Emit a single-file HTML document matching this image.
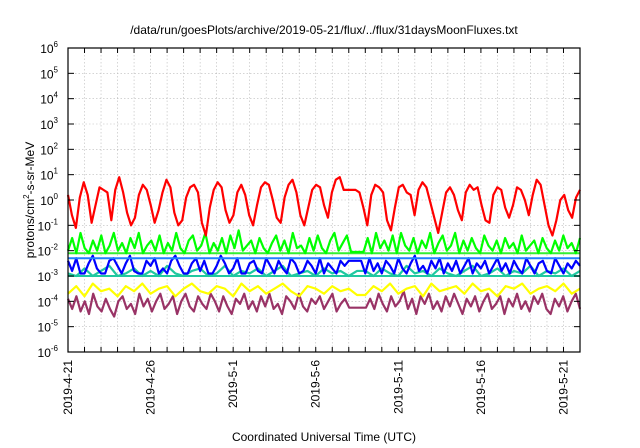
<!DOCTYPE html>
<html><head><meta charset="utf-8"><style>
body{margin:0;background:#fff}
svg{display:block;font-family:"Liberation Sans",sans-serif}
</style></head><body>
<svg id="chart" width="640" height="448" viewBox="0 0 640 448" xmlns="http://www.w3.org/2000/svg">
<text x="324" y="34" font-size="12" text-anchor="middle">/data/run/goesPlots/archive/2019-05-21/flux/../flux/31daysMoonFluxes.txt</text>
<text x="324" y="441" font-size="12" text-anchor="middle">Coordinated Universal Time (UTC)</text>
<text transform="translate(34,200) rotate(-90)" font-size="12" text-anchor="middle">protons/cm<tspan dy="-5" font-size="8">2</tspan><tspan dy="5">-s-sr-MeV</tspan></text>
<g id="grid"></g><g id="series"></g><g id="axes"></g>
</svg>
<script>
// log10 flux values, evenly spaced over the 31-day window starting 2019-4-21
const xTickLabels=["2019-4-21","2019-4-26","2019-5-1","2019-5-6","2019-5-11","2019-5-16","2019-5-21"];
const xTickDays=[0,5,10,15,20,25,30];
const yTickExps=[-6,-5,-4,-3,-2,-1,0,1,2,3,4,5,6];
const red=[0.2,-0.6,-1.1,0.1,0.7,0.2,-0.9,-0.2,0.5,0.4,0.3,-0.8,0.4,0.9,0.3,-0.5,-1.0,-0.7,0.2,0.6,0.4,-0.2,-0.9,-0.4,0.3,0.8,0.5,-0.5,-1.0,-0.8,0.1,0.5,0.6,0.3,-0.9,-1.4,-0.3,0.4,0.7,0.5,-0.4,-0.9,-0.6,0.3,0.6,0.2,-0.6,-1.0,-0.2,0.5,0.7,0.6,0.0,-0.7,-0.9,0.1,0.6,0.8,0.3,-0.6,-1.0,-0.3,0.4,0.6,0.5,-0.2,-0.7,0.3,0.8,0.9,0.4,0.4,0.4,0.4,0.3,-0.3,-1.0,0.2,0.6,0.5,0.3,-0.8,-1.2,-0.3,0.5,0.6,0.3,0.2,-0.6,0.4,0.7,0.5,-0.1,-0.7,-1.3,-0.5,0.3,0.5,0.2,-0.4,-0.8,0.3,0.6,0.4,0.5,-0.2,-0.8,-0.9,0.2,0.5,0.4,-0.3,-0.7,-0.2,0.5,0.4,0.0,-0.6,0.2,0.8,0.6,-0.2,-1.0,-1.4,-0.8,0.0,0.2,-0.4,-0.7,0.1,0.4];
const green=[-2.0,-1.5,-2.1,-1.3,-1.9,-2.1,-1.6,-2.0,-1.4,-2.1,-1.8,-1.3,-2.0,-1.7,-2.1,-1.5,-1.9,-1.3,-2.1,-1.8,-1.6,-2.0,-1.4,-2.1,-1.7,-2.0,-1.3,-1.9,-2.1,-1.6,-1.4,-2.0,-1.8,-1.3,-2.1,-1.7,-2.0,-1.5,-2.1,-1.4,-1.9,-1.2,-2.0,-1.8,-1.6,-2.1,-1.5,-1.9,-2.1,-1.7,-1.4,-2.0,-1.6,-2.1,-1.3,-1.9,-1.8,-2.1,-1.5,-2.0,-1.4,-1.9,-2.1,-1.6,-1.3,-2.0,-1.7,-1.4,-2.05,-2.05,-2.05,-2.05,-1.5,-2.1,-1.3,-1.9,-1.6,-2.0,-1.4,-2.1,-1.3,-1.8,-2.0,-1.5,-2.1,-1.6,-1.9,-1.3,-2.1,-1.7,-1.4,-2.0,-1.8,-1.3,-2.1,-1.6,-2.0,-1.5,-1.9,-2.1,-1.4,-1.8,-2.0,-1.6,-2.1,-1.5,-1.9,-1.7,-2.1,-1.4,-2.0,-1.8,-1.6,-2.1,-1.5,-1.9,-2.1,-1.6,-2.0,-1.4,-1.9,-1.7,-2.1,-1.5];
const blue=[-2.4,-2.8,-2.3,-2.9,-2.9,-2.5,-2.2,-2.7,-2.9,-2.9,-2.4,-2.3,-2.6,-2.9,-2.5,-2.2,-2.8,-2.9,-2.9,-2.4,-2.6,-2.3,-2.9,-2.7,-2.9,-2.4,-2.2,-2.6,-2.9,-2.9,-2.5,-2.3,-2.8,-2.4,-2.9,-2.9,-2.6,-2.2,-2.5,-2.9,-2.7,-2.3,-2.9,-2.9,-2.5,-2.4,-2.8,-2.9,-2.3,-2.6,-2.9,-2.4,-2.7,-2.9,-2.3,-2.5,-2.9,-2.8,-2.4,-2.6,-2.9,-2.3,-2.9,-2.5,-2.7,-2.9,-2.4,-2.6,-2.4,-2.4,-2.4,-2.4,-2.9,-2.3,-2.8,-2.5,-2.9,-2.4,-2.6,-2.9,-2.3,-2.7,-2.9,-2.5,-2.2,-2.8,-2.6,-2.9,-2.4,-2.7,-2.3,-2.9,-2.5,-2.8,-2.4,-2.9,-2.6,-2.3,-2.9,-2.5,-2.7,-2.4,-2.9,-2.6,-2.3,-2.8,-2.5,-2.9,-2.4,-2.7,-2.9,-2.3,-2.6,-2.9,-2.5,-2.4,-2.8,-2.9,-2.3,-2.6,-2.9,-2.5,-2.7,-2.4,-2.6];
const cyan=[-2.9,-3.0,-2.7,-3.0,-2.8,-2.6,-3.0,-2.9,-2.7,-3.0,-2.8,-3.0,-2.6,-2.9,-3.0,-2.8,-2.7,-3.0,-2.9,-2.6,-3.0,-2.8,-2.9,-2.7,-3.0,-2.8,-2.6,-3.0,-2.9,-2.8,-3.0,-2.7,-2.9,-2.8,-3.0,-2.8,-2.8,-3.0,-2.7,-2.9,-3.0,-2.6,-2.9,-2.8,-3.0,-2.7,-2.9,-3.0,-2.8,-2.6,-3.0,-2.9,-2.7,-3.0,-2.8,-2.9,-2.6,-3.0,-2.8,-2.9,-2.7,-3.0,-2.8];
const yellow=[-3.7,-3.4,-3.8,-3.3,-3.6,-3.5,-3.8,-3.4,-3.6,-3.3,-3.7,-3.5,-3.4,-3.8,-3.5,-3.3,-3.6,-3.7,-3.4,-3.5,-3.8,-3.3,-3.6,-3.4,-3.7,-3.5,-3.3,-3.6,-3.8,-3.4,-3.5,-3.7,-3.4,-3.6,-3.5,-3.75,-3.75,-3.4,-3.6,-3.3,-3.7,-3.5,-3.4,-3.8,-3.3,-3.6,-3.5,-3.4,-3.7,-3.3,-3.6,-3.5,-3.8,-3.4,-3.5,-3.3,-3.7,-3.5,-3.4,-3.6,-3.3,-3.7,-3.5];
const purple=[-3.9,-4.3,-3.8,-4.4,-4.0,-4.5,-3.7,-4.2,-4.4,-3.9,-4.3,-4.6,-4.0,-3.8,-4.3,-4.1,-4.5,-3.7,-4.2,-3.9,-4.4,-4.0,-3.7,-4.3,-4.1,-3.8,-4.5,-4.0,-3.7,-4.2,-4.4,-3.8,-4.1,-4.3,-3.7,-4.0,-4.4,-3.8,-4.2,-4.5,-3.9,-4.1,-3.7,-4.3,-4.0,-4.4,-3.8,-4.2,-3.7,-4.3,-4.1,-4.5,-3.8,-4.0,-4.3,-3.7,-4.2,-4.4,-3.9,-4.1,-3.8,-4.3,-4.0,-3.7,-4.4,-4.1,-3.9,-4.25,-4.25,-4.25,-4.25,-4.25,-3.9,-4.3,-3.7,-4.1,-4.4,-3.8,-4.2,-4.0,-3.6,-4.3,-3.9,-4.5,-3.8,-4.1,-3.7,-4.3,-4.0,-4.4,-3.8,-4.2,-3.7,-4.1,-4.5,-3.9,-4.2,-3.8,-4.4,-4.0,-3.7,-4.3,-4.1,-3.8,-4.5,-3.9,-4.2,-3.7,-4.3,-4.0,-4.4,-3.8,-4.1,-3.7,-4.3,-4.5,-3.9,-4.2,-3.8,-4.4,-4.0,-3.7,-4.3];
const floorGreen=-2.1, floorBlue=-2.3, floorCyan=-3.0;

const L=68,R=580,T=48,B=352,D0=0,D1=31;
const xs=d=>L+(d-D0)/(D1-D0)*(R-L);
const ys=e=>B-(e+6)/12*(B-T);
const NS="http://www.w3.org/2000/svg";
function mk(tag,attrs,parent){const el=document.createElementNS(NS,tag);for(const k in attrs)el.setAttribute(k,attrs[k]);parent.appendChild(el);return el;}
const grid=document.getElementById('grid'),axes=document.getElementById('axes'),ser=document.getElementById('series');
for(let d=1;d<31;d++){const g=mk('line',{x1:xs(d),x2:xs(d),y1:T,y2:B,stroke:'#bbb','stroke-width':0.6,'stroke-dasharray':'1.5,2'},grid);


mk('line',{x1:xs(d),x2:xs(d),y1:B,y2:B-5,stroke:'#000','stroke-width':1},axes);
mk('line',{x1:xs(d),x2:xs(d),y1:T,y2:T+5,stroke:'#000','stroke-width':1},axes);}
yTickExps.forEach(e=>{
 if(e>-6&&e<6){const g=mk('line',{x1:L,x2:R,y1:ys(e),y2:ys(e),stroke:'#bbb','stroke-width':0.6,'stroke-dasharray':'1.5,2'},grid);
 
 }
 mk('line',{x1:L,x2:L+6,y1:ys(e),y2:ys(e),stroke:'#000'},axes);
 mk('line',{x1:R,x2:R-6,y1:ys(e),y2:ys(e),stroke:'#000'},axes);
 const t=mk('text',{x:L-10,y:ys(e)+5,'font-size':12,'text-anchor':'end'},axes);
 
 
 t.textContent='10';const sp=mk('tspan',{dy:-6,'font-size':8},t);sp.textContent=e;
});
xTickDays.forEach((d,i)=>{
 const t=mk('text',{transform:`translate(${xs(d)+4},360) rotate(-90)`,'font-size':12,'text-anchor':'end'},axes);
 
 
 t.textContent=xTickLabels[i];
});
const f=mk('rect',{x:L,y:T,width:R-L,height:B-T,fill:'none',stroke:'#000','stroke-width':1.2},axes);


function flat(e,color,name){const l=mk('line',{x1:L,x2:R,y1:ys(e),y2:ys(e),stroke:color,'stroke-width':2},ser);

}
function line(arr,color,name){const step=(D1-D0)/(arr.length-1);const p=mk('polyline',{points:arr.map((v,i)=>xs(D0+i*step)+','+ys(v)).join(' '),fill:'none',stroke:color,'stroke-width':2.2,'stroke-linejoin':'round'},ser);

}
line(purple,'#993366','purple-series');
line(yellow,'#ffff00','yellow-series');
flat(floorGreen,'#33ee33','green-baseline');
line(green,'#00ff00','green-series');
line(cyan,'#20c8a0','cyan-series');
flat(floorCyan,'#20c8a0','cyan-baseline');
line(blue,'#0000ff','blue-series');
flat(floorBlue,'#2080ff','blue-baseline');
line(red,'#ff0000','red-series');
</script>
</body></html>
